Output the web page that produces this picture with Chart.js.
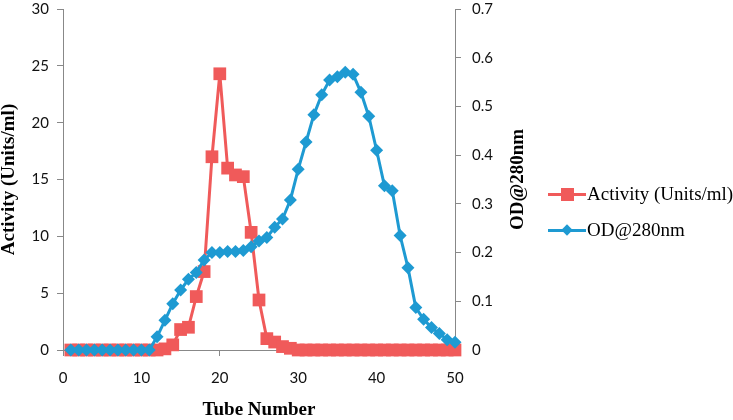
<!DOCTYPE html>
<html>
<head>
<meta charset="utf-8">
<script src="https://cdn.jsdelivr.net/npm/chart.js@4"></script>
<style>
  html, body { margin: 0; padding: 0; background: #fff; }
  #wrap { position: relative; width: 733px; height: 420px; }
  #legend { position: absolute; left: 548px; top: 181px; font-family: "Liberation Serif", serif; font-size: 19px; color: #000; }
  .row { display: flex; align-items: center; height: 26px; margin-bottom: 10px; white-space: nowrap; }
  .key { position: relative; width: 38px; height: 26px; margin-right: 1px; }
  .key .ln { position: absolute; left: 0; right: 0; top: 12px; height: 3px; }
  .key .mk { position: absolute; }
</style>
</head>
<body>
<div id="wrap">
  <canvas id="c" width="733" height="420"></canvas>
  <div id="legend"></div>
</div>
<script>
const tubes = [1, 2, 3, 4, 5, 6, 7, 8, 9, 10, 11, 12, 13, 14, 15, 16, 17, 18, 19, 20,
  21, 22, 23, 24, 25, 26, 27, 28, 29, 30, 31, 32, 33, 34, 35, 36, 37, 38, 39, 40,
  41, 42, 43, 44, 45, 46, 47, 48, 49, 50];

// Activity (Units/ml), left axis
const activity = [0, 0, 0, 0, 0, 0, 0, 0, 0, 0, 0, 0, 0.1, 0.45, 1.8, 2.0, 4.7, 6.9, 17.0, 24.3,
  16.0, 15.4, 15.25, 10.35, 4.4, 1.0, 0.7, 0.3, 0.15, 0, 0, 0, 0, 0, 0, 0, 0, 0, 0, 0,
  0, 0, 0, 0, 0, 0, 0, 0, 0, 0];

// OD@280nm, right axis
const od280 = [0, 0, 0, 0, 0, 0, 0, 0, 0, 0, 0, 0.027, 0.061, 0.095, 0.123, 0.145, 0.159, 0.185, 0.2, 0.2,
  0.202, 0.202, 0.204, 0.212, 0.224, 0.231, 0.252, 0.269, 0.308, 0.371, 0.427, 0.483, 0.524, 0.554, 0.561, 0.57, 0.566, 0.529, 0.48, 0.41,
  0.337, 0.327, 0.235, 0.169, 0.087, 0.063, 0.046, 0.034, 0.021, 0.016];

const xTicks = [0, 10, 20, 30, 40, 50];

const RED = '#F05A5A';
const BLUE = '#1E9AD2';
const AXIS = '#888888';
const tickFont = { family: 'Lato, "Liberation Sans", sans-serif', size: 15 };
const titleFont = { family: '"Liberation Serif", serif', size: 19, weight: 'bold', lineHeight: 1 };

const actPoints = tubes.map((t, i) => ({ x: t, y: activity[i] }));
const odPoints = tubes.map((t, i) => ({ x: t, y: od280[i] }));

const gridOpts = { display: true, drawOnChartArea: false, drawTicks: true, tickLength: 6, color: AXIS };

// right axis title reads bottom-to-top like the left one
const rightTitle = {
  id: 'rightTitle',
  afterDraw(chart) {
    const { ctx, chartArea } = chart;
    ctx.save();
    ctx.translate(518, (chartArea.top + chartArea.bottom) / 2);
    ctx.rotate(-Math.PI / 2);
    ctx.font = 'bold 19px "Liberation Serif", serif';
    ctx.fillStyle = '#000';
    ctx.textAlign = 'center';
    ctx.textBaseline = 'middle';
    ctx.fillText('OD@280nm', 0, 0);
    ctx.restore();
  }
};

new Chart(document.getElementById('c'), {
  type: 'line',
  data: {
    datasets: [
      {
        label: 'Activity (Units/ml)',
        data: actPoints,
        yAxisID: 'y',
        borderColor: RED,
        backgroundColor: RED,
        borderWidth: 3,
        pointStyle: 'rect',
        pointRadius: 9,
        pointBorderWidth: 0,
        tension: 0,
        clip: false,
        order: 2
      },
      {
        label: 'OD@280nm',
        data: odPoints,
        yAxisID: 'y1',
        borderColor: BLUE,
        backgroundColor: BLUE,
        borderWidth: 3,
        pointStyle: 'rectRot',
        pointRadius: 6.5,
        pointBorderWidth: 0,
        tension: 0,
        clip: false,
        order: 1
      }
    ]
  },
  options: {
    responsive: false,
    animation: false,
    layout: { padding: { top: 7, right: 193, bottom: 0, left: 0 } },
    plugins: { legend: { display: false }, tooltip: { enabled: false } },
    scales: {
      x: {
        type: 'linear',
        min: 0, max: 50,
        afterBuildTicks: (s) => { s.ticks = xTicks.map(v => ({ value: v })); },
        border: { color: AXIS, width: 1 },
        grid: gridOpts,
        ticks: { color: '#111', font: tickFont, padding: 13, maxRotation: 0 },
        title: { display: true, text: 'Tube Number', color: '#000', font: titleFont, padding: { top: 10, bottom: 0 } },
        afterFit: (s) => { s.height = 70; s.paddingLeft = 0; s.paddingRight = 0; }
      },
      y: {
        position: 'left',
        min: 0, max: 30,
        ticks: { stepSize: 5, color: '#111', font: tickFont, padding: 8 },
        border: { color: AXIS, width: 1 },
        grid: gridOpts,
        title: { display: true, text: 'Activity (Units/ml)', color: '#000', font: titleFont, padding: { top: 0, bottom: 8 } },
        afterFit: (s) => { s.width = 63; s.paddingTop = 0; s.paddingBottom = 0; }
      },
      y1: {
        position: 'right',
        min: 0, max: 0.7,
        ticks: { stepSize: 0.1, color: '#111', font: tickFont, padding: 11 },
        border: { color: AXIS, width: 1 },
        grid: gridOpts,
        title: { display: false },
        afterFit: (s) => { s.width = 85; s.paddingTop = 0; s.paddingBottom = 0; }
      }
    }
  },
  plugins: [rightTitle]
});

// legend in HTML
const legendItems = [
  { text: 'Activity (Units/ml)', color: RED, shape: 'square' },
  { text: 'OD@280nm', color: BLUE, shape: 'diamond' }
];
const lg = document.getElementById('legend');
legendItems.forEach(it => {
  const row = document.createElement('div');
  row.className = 'row';
  let mk;
  if (it.shape === 'square') {
    mk = `<span class="mk" style="left:13px;top:7px;width:13px;height:13px;background:${it.color}"></span>`;
  } else {
    mk = `<span class="mk" style="left:15px;top:9px;width:8px;height:8px;background:${it.color};transform:rotate(45deg)"></span>`;
  }
  row.innerHTML = `<span class="key"><span class="ln" style="background:${it.color}"></span>${mk}</span><span>${it.text}</span>`;
  lg.appendChild(row);
});
</script>
</body>
</html>
